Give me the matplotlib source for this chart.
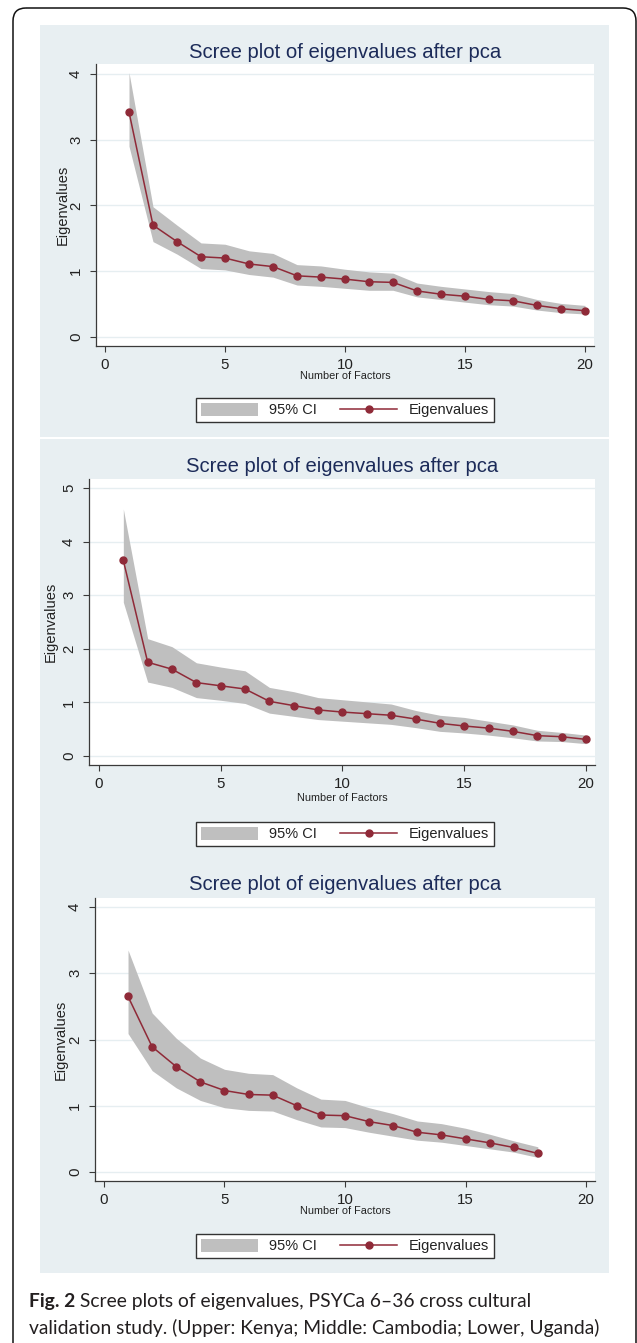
import matplotlib
matplotlib.use("Agg")
import matplotlib.pyplot as plt
from matplotlib.patches import FancyBboxPatch, Rectangle
from matplotlib.lines import Line2D
from matplotlib.patches import Patch

# ---------------- data ----------------
title_text = "Scree plot of eigenvalues after pca"
xlabel_text = "Number of Factors"
ylabel_text = "Eigenvalues"
legend_labels = ["95% CI", "Eigenvalues"]
xticks = [0, 5, 10, 15, 20]

factors_kenya = [1, 2, 3, 4, 5, 6, 7, 8, 9, 10, 11, 12, 13, 14, 15, 16, 17, 18, 19, 20]
eig_kenya = [3.42, 1.70, 1.45, 1.22, 1.20, 1.11, 1.07, 0.93, 0.91, 0.88,
             0.84, 0.83, 0.70, 0.65, 0.62, 0.57, 0.55, 0.48, 0.43, 0.40]
ci_hi_kenya = [4.02, 1.98, 1.70, 1.43, 1.41, 1.31, 1.27, 1.10, 1.08, 1.03,
               0.99, 0.97, 0.82, 0.77, 0.73, 0.69, 0.66, 0.57, 0.51, 0.48]
ci_lo_kenya = [2.90, 1.45, 1.26, 1.04, 1.02, 0.95, 0.91, 0.79, 0.77, 0.74,
               0.71, 0.71, 0.61, 0.57, 0.53, 0.49, 0.47, 0.41, 0.37, 0.35]

factors_cambodia = [1, 2, 3, 4, 5, 6, 7, 8, 9, 10, 11, 12, 13, 14, 15, 16, 17, 18, 19, 20]
eig_cambodia = [3.65, 1.75, 1.62, 1.37, 1.31, 1.25, 1.02, 0.94, 0.86, 0.82,
                0.79, 0.76, 0.69, 0.61, 0.56, 0.52, 0.46, 0.38, 0.36, 0.31]
ci_hi_cambodia = [4.61, 2.19, 2.04, 1.74, 1.66, 1.59, 1.28, 1.20, 1.09, 1.05,
                  1.01, 0.97, 0.85, 0.76, 0.72, 0.65, 0.58, 0.48, 0.44, 0.39]
ci_lo_cambodia = [2.87, 1.38, 1.28, 1.09, 1.04, 0.98, 0.80, 0.74, 0.68, 0.65,
                  0.62, 0.59, 0.53, 0.46, 0.43, 0.39, 0.34, 0.28, 0.27, 0.23]

factors_uganda = [1, 2, 3, 4, 5, 6, 7, 8, 9, 10, 11, 12, 13, 14, 15, 16, 17, 18]
eig_uganda = [2.65, 1.89, 1.59, 1.36, 1.23, 1.17, 1.16, 1.00, 0.86, 0.85,
              0.76, 0.70, 0.60, 0.56, 0.50, 0.44, 0.37, 0.28]
ci_hi_uganda = [3.35, 2.40, 2.02, 1.72, 1.55, 1.49, 1.47, 1.27, 1.10, 1.08,
                0.97, 0.88, 0.77, 0.73, 0.66, 0.57, 0.47, 0.38]
ci_lo_uganda = [2.09, 1.53, 1.27, 1.08, 0.97, 0.93, 0.92, 0.79, 0.68, 0.67,
                0.60, 0.54, 0.48, 0.45, 0.40, 0.35, 0.30, 0.22]

yticks_kenya = [0, 1, 2, 3, 4]
yticks_cambodia = [0, 1, 2, 3, 4, 5]
yticks_uganda = [0, 1, 2, 3, 4]

caption_bold = "Fig. 2"
caption_line1 = " Scree plots of eigenvalues, PSYCa 6\u201336 cross cultural"
caption_line2 = "validation study. (Upper: Kenya; Middle: Cambodia; Lower, Uganda)"

# ---------------- style ----------------
W, H = 637, 1343
BG = "#e8eff2"
NAVY = "#1c2b59"
LINE = "#8f2a38"
CI = "#bfbfbf"
GRID = "#e6eef1"
AX = "#3a3a3a"
FONT = ["Liberation Sans", "DejaVu Sans"]

plt.rcParams["font.family"] = FONT

fig = plt.figure(figsize=(W / 100, H / 100), dpi=100)
fig.patch.set_facecolor("white")

bg = fig.add_axes([0, 0, 1, 1], zorder=0)
bg.set_xlim(0, W)
bg.set_ylim(H, 0)
bg.axis("off")
bg.patch.set_alpha(0)

# panel backgrounds
bg.add_patch(Rectangle((40, 25), 569, 412, facecolor=BG, edgecolor="none"))
bg.add_patch(Rectangle((40, 439), 569, 834, facecolor=BG, edgecolor="none"))

# outer frame
bg.add_patch(FancyBboxPatch((13, 8), 623, 1400,
                            boxstyle="round,pad=0,rounding_size=13",
                            facecolor="none", edgecolor="#111111", lw=1.1))


def rect(l, r, t, b):
    return [l / W, 1 - b / H, (r - l) / W, (b - t) / H]


panels = [
    dict(x=factors_kenya, y=eig_kenya, hi=ci_hi_kenya, lo=ci_lo_kenya, yt=yticks_kenya,
         box=(96, 594, 64, 346), ylim=(-0.137, 4.15), xlim=(-0.375, 20.375),
         title_y=52, ylab_x=63, xlab_y=376, leg_y=410),
    dict(x=factors_cambodia, y=eig_cambodia, hi=ci_hi_cambodia, lo=ci_lo_cambodia, yt=yticks_cambodia,
         box=(89, 595, 479, 765), ylim=(-0.168, 5.17), xlim=(-0.41, 20.37),
         title_y=466, ylab_x=51, xlab_y=798, leg_y=834),
    dict(x=factors_uganda, y=eig_uganda, hi=ci_hi_uganda, lo=ci_lo_uganda, yt=yticks_uganda,
         box=(95, 595, 898, 1181), ylim=(-0.136, 4.136), xlim=(-0.37, 20.37),
         title_y=885, ylab_x=61, xlab_y=1211, leg_y=1246),
]

for p in panels:
    l, r, t, b = p["box"]
    ax = fig.add_axes(rect(l, r, t, b), zorder=1)
    ax.set_facecolor("white")
    ax.fill_between(p["x"], p["lo"], p["hi"], color=CI, lw=0, zorder=2)
    ax.plot(p["x"], p["y"], color=LINE, lw=1.1, marker="o", ms=5, zorder=3)
    ax.set_xlim(*p["xlim"])
    ax.set_ylim(*p["ylim"])
    ax.set_xticks(xticks)
    ax.set_yticks(p["yt"])
    ax.grid(axis="y", color=GRID, lw=1.0)
    ax.set_axisbelow(True)
    for s in ["top", "right"]:
        ax.spines[s].set_visible(False)
    for s in ["left", "bottom"]:
        ax.spines[s].set_color(AX)
        ax.spines[s].set_linewidth(0.9)
    ax.tick_params(direction="out", length=4.3, width=0.8, colors=AX,
                   labelcolor="#222222", labelsize=10.8)
    ax.tick_params(axis="x", pad=4)
    ax.tick_params(axis="y", pad=5, labelrotation=90)
    for lab in ax.get_yticklabels():
        lab.set_va("center")

    cx = (l + r) / 2
    bg.text(cx, p["title_y"], title_text, ha="center", va="center",
            fontsize=14.6, color=NAVY)
    bg.text(cx, p["xlab_y"], xlabel_text, ha="center", va="center",
            fontsize=7.8, color="#222222")
    bg.text(p["ylab_x"], (t + b) / 2, ylabel_text, ha="center", va="center",
            rotation=90, fontsize=10.5, color="#222222")

    handles = [Patch(facecolor=CI, edgecolor="none"),
               Line2D([], [], color=LINE, lw=1.1, marker="o", ms=5)]
    leg = fig.legend(handles, legend_labels, loc="center", ncol=2,
                     bbox_to_anchor=(345, p["leg_y"]), bbox_transform=bg.transData,
                     fontsize=10.5, handlelength=3.9, handleheight=1.0,
                     handletextpad=0.8, columnspacing=1.6, borderpad=0.35,
                     frameon=True, fancybox=False, framealpha=1)
    leg.get_frame().set_edgecolor("#333333")
    leg.get_frame().set_linewidth(1.0)
    for txt in leg.get_texts():
        txt.set_color("#222222")

# caption
CAP_FONT = ["Lato", "DejaVu Sans"]
CAP_SIZE = 13.9
t1 = bg.text(29, 1302, caption_bold, ha="left", va="center", fontsize=CAP_SIZE,
             fontweight="bold", color="#231f20", family=CAP_FONT)
fig.canvas.draw()
bb = t1.get_window_extent(renderer=fig.canvas.get_renderer())
x_end = bg.transData.inverted().transform((bb.x1, bb.y0))[0]
bg.text(x_end, 1302, caption_line1, ha="left", va="center", fontsize=CAP_SIZE,
        color="#231f20", family=CAP_FONT)
bg.text(29, 1328, caption_line2, ha="left", va="center", fontsize=CAP_SIZE,
        color="#231f20", family=CAP_FONT)

fig.savefig("out.png", dpi=100, facecolor="white")
